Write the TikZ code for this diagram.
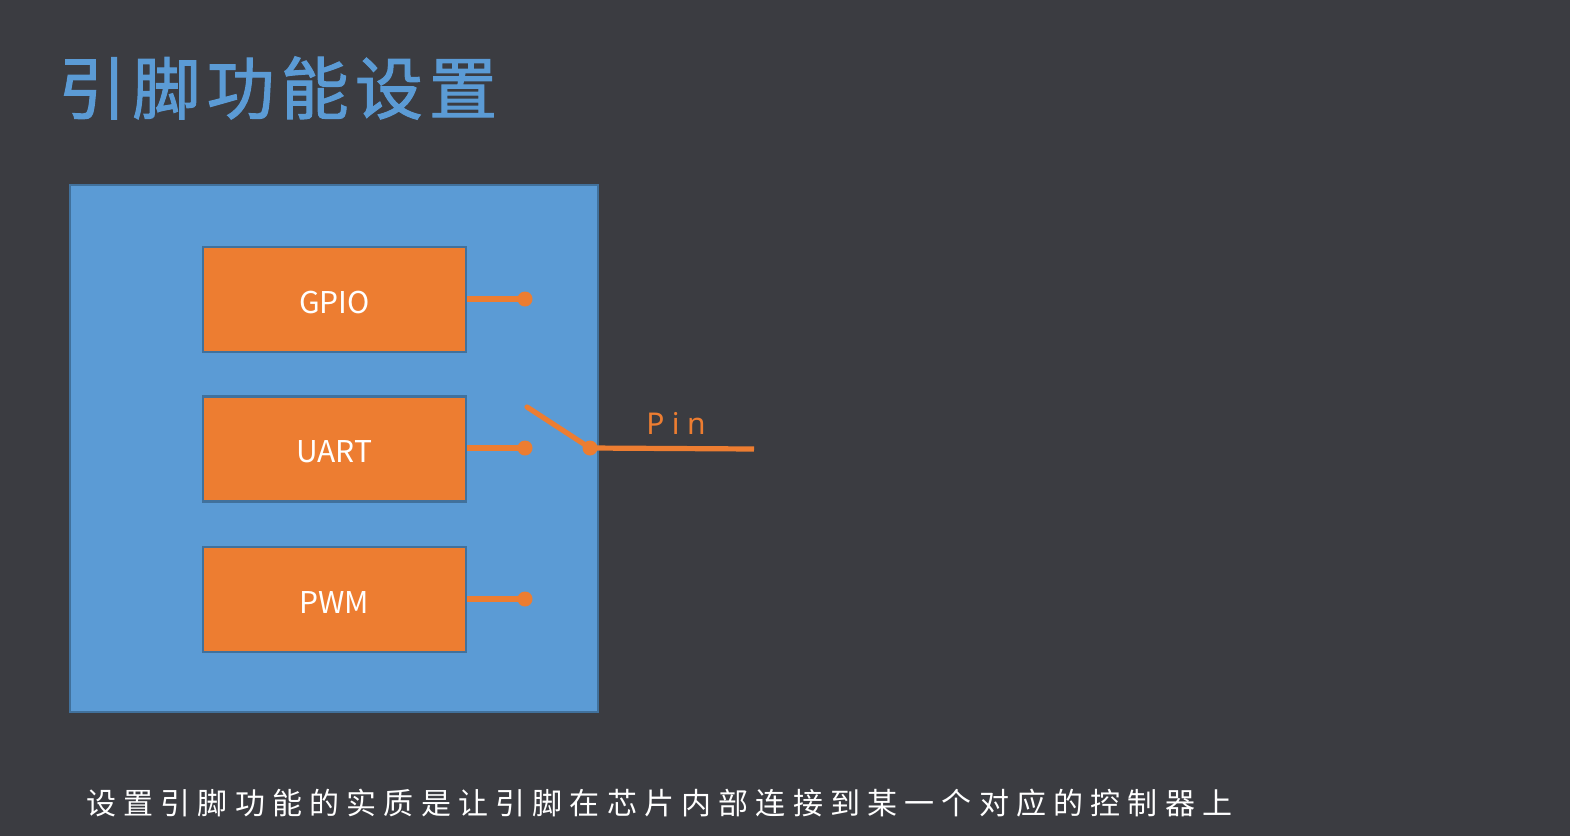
\documentclass[tikz,border=0pt]{standalone}
\usepackage{fontspec}
\setmainfont{Noto Sans CJK SC}
\newfontfamily\cjk{Noto Sans CJK SC}
\newfontfamily\cjktitle[LetterSpace=9,FakeBold=1.5]{Noto Sans CJK SC}
\newfontfamily\cjkwide[LetterSpace=24]{Noto Sans CJK SC}
\newfontfamily\pinfont[LetterSpace=25]{Noto Sans}
\definecolor{bg}{RGB}{59,60,65}
\definecolor{chip}{RGB}{91,155,213}
\definecolor{chipedge}{RGB}{65,113,156}
\definecolor{orng}{RGB}{237,125,49}
\tikzset{
  modbox/.style={draw=chipedge, line width=1.2pt, fill=orng, minimum width=131.5pt, minimum height=52.5pt, inner sep=0pt, text height=13.7pt, text depth=0pt, text=white, font=\cjk\fontsize{15}{15}\selectfont},
  wire/.style={draw=orng, line width=2.6pt},
  dotc/.style={circle, fill=orng, inner sep=0pt, minimum size=7.5pt},
}
\begin{document}
\begin{tikzpicture}[x=0.5pt,y=-0.5pt]
\fill[bg] (0,0) rectangle (1570,836);
\useasboundingbox (0,0) rectangle (1570,836);
\node[anchor=west, text=chip, font=\cjktitle\fontsize{34}{34}\selectfont, inner sep=0pt] (title) at (58,88) {引脚功能设置};
\node[draw=chipedge, line width=1pt, fill=chip, minimum width=264pt, minimum height=263.5pt, inner sep=0pt] (chip) at (334,448.5) {};
\node[modbox] (gpio) at (334.5,299.5) {GPIO};
\node[modbox] (uart) at (334.5,449) {UART};
\node[modbox] (pwm) at (334.5,599.5) {PWM};
\node[dotc] (d1) at (525,299) {};
\node[dotc] (d2) at (525,448) {};
\node[dotc] (d3) at (525,599) {};
\node[dotc] (sw) at (590,448) {};
\coordinate (swtip) at (527,407);
\coordinate (pinend) at (754,449);
\draw[wire] (gpio.east |- d1) -- (d1.center);
\draw[wire] (uart.east |- d2) -- (d2.center);
\draw[wire] (pwm.east |- d3) -- (d3.center);
\draw[wire, line cap=round] (swtip) -- (sw.center);
\draw[wire] (sw.center) -- (pinend);
\node[text=orng, font=\pinfont\fontsize{15}{15}\selectfont, inner sep=0pt] (pin) at (676,423) {Pin};
\node[anchor=west, text=white, font=\cjkwide\fontsize{15}{15}\selectfont, inner sep=0pt] (note) at (86,803) {设置引脚功能的实质是让引脚在芯片内部连接到某一个对应的控制器上};
\end{tikzpicture}
\end{document}
